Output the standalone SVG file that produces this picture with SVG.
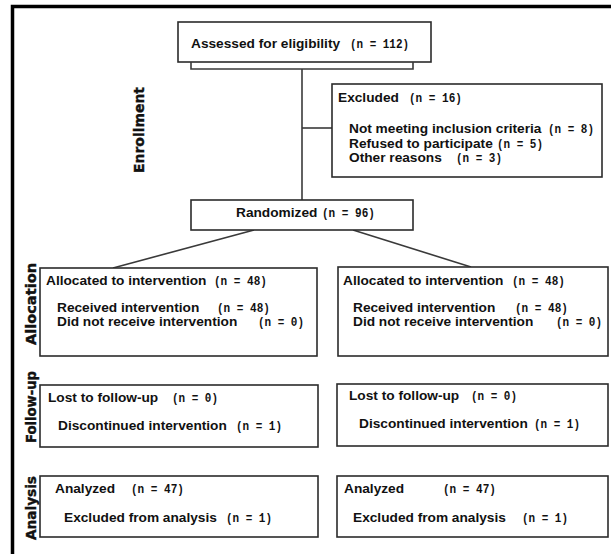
<svg xmlns="http://www.w3.org/2000/svg" width="611" height="554" viewBox="0 0 611 554">
<style>
.box{fill:#fff;stroke:#2b2b2b;stroke-width:1.6}
.ln{fill:none;stroke:#3a3a3a;stroke-width:1.6}
.t{font-family:"Liberation Sans",Arial,sans-serif;font-weight:bold;font-size:13.7px;fill:#111;white-space:pre}
.m{font-family:"Liberation Mono","Courier New",monospace;font-size:13px;font-weight:bold}
.lab{font-family:"DejaVu Sans","Noto Sans",sans-serif;font-weight:bold;font-size:14px;fill:#111;stroke:#111;stroke-width:0.4;text-anchor:middle}
</style>
<rect x="0" y="0" width="611" height="554" fill="#fff"/>
<rect x="12.5" y="6.5" width="640" height="600" fill="none" stroke="#000" stroke-width="3.5"/>
<g id="labels">
<text class="lab" transform="translate(144,130) rotate(-90)" textLength="86" lengthAdjust="spacingAndGlyphs">Enrollment</text>
<text class="lab" transform="translate(36,304) rotate(-90)" textLength="82" lengthAdjust="spacingAndGlyphs">Allocation</text>
<text class="lab" transform="translate(36,407) rotate(-90)" textLength="72" lengthAdjust="spacingAndGlyphs">Follow-up</text>
<text class="lab" transform="translate(36,508) rotate(-90)" textLength="64" lengthAdjust="spacingAndGlyphs">Analysis</text>
</g>
<g id="connectors">
<line class="ln" x1="302" y1="69" x2="302" y2="200"/>
<line class="ln" x1="302" y1="128" x2="332" y2="128"/>
<line class="ln" x1="254" y1="230" x2="113" y2="268"/>
<line class="ln" x1="353" y1="230" x2="471" y2="267"/>
</g>
<g id="assessed">
<rect class="box" x="178" y="22" width="253" height="40"/>
<path class="ln" d="M191 62V69H413V62"/>
<text class="t" x="191" y="48">Assessed for eligibility<tspan class="m" x="350" textLength="59" lengthAdjust="spacingAndGlyphs">(n = 112)</tspan></text>
</g>
<g id="excluded">
<rect class="box" x="332" y="84" width="270" height="93"/>
<text class="t" x="338" y="102">Excluded<tspan class="m" x="409" textLength="53" lengthAdjust="spacingAndGlyphs">(n = 16)</tspan></text>
<text class="t" x="349" y="133">Not meeting inclusion criteria<tspan class="m" x="548" textLength="46" lengthAdjust="spacingAndGlyphs">(n = 8)</tspan></text>
<text class="t" x="349" y="148">Refused to participate<tspan class="m" x="497" textLength="46" lengthAdjust="spacingAndGlyphs">(n = 5)</tspan></text>
<text class="t" x="349" y="162">Other reasons<tspan class="m" x="456" textLength="46" lengthAdjust="spacingAndGlyphs">(n = 3)</tspan></text>
</g>
<g id="randomized">
<rect class="box" x="191" y="200" width="222" height="30"/>
<text class="t" x="236" y="217">Randomized<tspan class="m" x="322" textLength="53" lengthAdjust="spacingAndGlyphs">(n = 96)</tspan></text>
</g>
<g id="alloc-left">
<rect class="box" x="40" y="268" width="277" height="88"/>
<text class="t" x="46" y="285">Allocated to intervention<tspan class="m" x="214" textLength="53" lengthAdjust="spacingAndGlyphs">(n = 48)</tspan></text>
<text class="t" x="57" y="312">Received intervention<tspan class="m" x="217" textLength="53" lengthAdjust="spacingAndGlyphs">(n = 48)</tspan></text>
<text class="t" x="57" y="326">Did not receive intervention<tspan class="m" x="258" textLength="46" lengthAdjust="spacingAndGlyphs">(n = 0)</tspan></text>
</g>
<g id="alloc-right">
<rect class="box" x="338" y="267" width="270" height="89"/>
<text class="t" x="343" y="285">Allocated to intervention<tspan class="m" x="512" textLength="53" lengthAdjust="spacingAndGlyphs">(n = 48)</tspan></text>
<text class="t" x="353" y="312">Received intervention<tspan class="m" x="515" textLength="53" lengthAdjust="spacingAndGlyphs">(n = 48)</tspan></text>
<text class="t" x="353" y="326">Did not receive intervention<tspan class="m" x="556" textLength="46" lengthAdjust="spacingAndGlyphs">(n = 0)</tspan></text>
</g>
<g id="followup-left">
<rect class="box" x="40" y="385" width="278" height="62"/>
<text class="t" x="48" y="402">Lost to follow-up<tspan class="m" x="172" textLength="46" lengthAdjust="spacingAndGlyphs">(n = 0)</tspan></text>
<text class="t" x="58" y="430">Discontinued intervention<tspan class="m" x="236" textLength="46" lengthAdjust="spacingAndGlyphs">(n = 1)</tspan></text>
</g>
<g id="followup-right">
<rect class="box" x="337" y="384" width="271" height="62"/>
<text class="t" x="349" y="400">Lost to follow-up<tspan class="m" x="471" textLength="46" lengthAdjust="spacingAndGlyphs">(n = 0)</tspan></text>
<text class="t" x="359" y="428">Discontinued intervention<tspan class="m" x="534" textLength="46" lengthAdjust="spacingAndGlyphs">(n = 1)</tspan></text>
</g>
<g id="analysis-left">
<rect class="box" x="40" y="476" width="278" height="61"/>
<text class="t" x="55" y="493">Analyzed<tspan class="m" x="131" textLength="53" lengthAdjust="spacingAndGlyphs">(n = 47)</tspan></text>
<text class="t" x="64" y="522">Excluded from analysis<tspan class="m" x="226" textLength="46" lengthAdjust="spacingAndGlyphs">(n = 1)</tspan></text>
</g>
<g id="analysis-right">
<rect class="box" x="337" y="476" width="271" height="61"/>
<text class="t" x="344" y="493">Analyzed<tspan class="m" x="443" textLength="53" lengthAdjust="spacingAndGlyphs">(n = 47)</tspan></text>
<text class="t" x="353" y="522">Excluded from analysis<tspan class="m" x="522" textLength="46" lengthAdjust="spacingAndGlyphs">(n = 1)</tspan></text>
</g>
</svg>
